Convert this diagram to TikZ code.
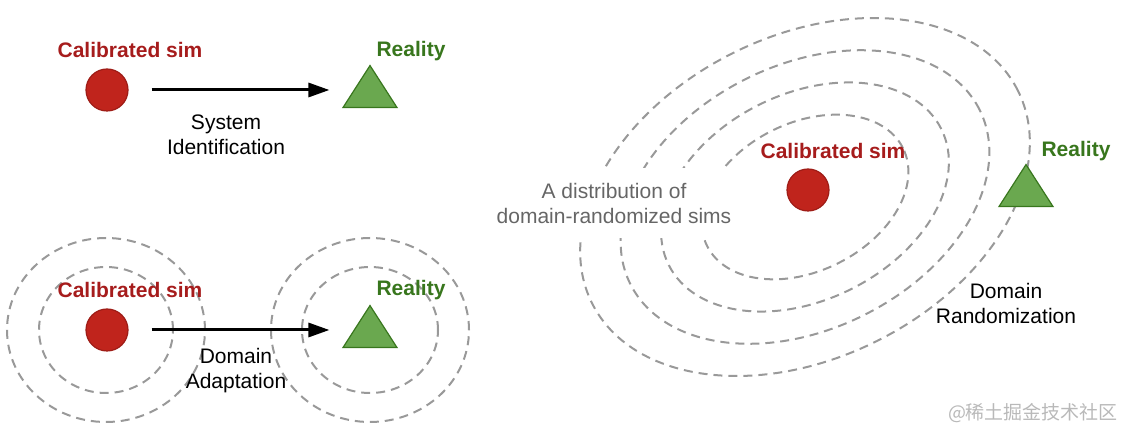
\documentclass[tikz,border=0pt]{standalone}
\usepackage{fontspec}
\setsansfont{Liberation Sans}
\newfontfamily\cjkfont{Noto Sans CJK SC}
\usepackage{tikz}
\usetikzlibrary{positioning}
\usetikzlibrary{arrows.meta}
\usetikzlibrary{shapes.geometric}
\definecolor{simred}{RGB}{192,36,28}
\definecolor{simdark}{RGB}{158,28,22}
\definecolor{simtext}{RGB}{166,28,28}
\definecolor{realgreen}{RGB}{106,168,79}
\definecolor{realdark}{RGB}{56,118,29}
\definecolor{ringgray}{RGB}{153,153,153}
\definecolor{notegray}{RGB}{102,102,102}

\tikzset{
	ring/.style={draw=ringgray, line width=2pt, dash pattern=on 9pt off 6pt},
	simdot/.style={circle, fill=simred, draw=simdark, line width=1.2pt, minimum size=42pt, inner sep=0pt},
	realtri/.style={isosceles triangle, isosceles triangle stretches, shape border rotate=90,
	                fill=realgreen, draw=realdark, line width=1.2pt,
	                minimum width=54pt, minimum height=42pt, inner sep=0pt, anchor=apex},
	simname/.style={text=simtext, font=\sffamily\bfseries\fontsize{21}{25}\selectfont},
	realname/.style={text=realdark, font=\sffamily\bfseries\fontsize{21}{25}\selectfont},
	caption/.style={align=center, font=\sffamily\fontsize{21}{25}\selectfont}
}

\begin{document}
\begin{tikzpicture}[x=1pt,y=1pt]
	\useasboundingbox (0,0) rectangle (1124,441);

	% rings round the left pair
	\draw[ring] (106,111) ellipse [x radius=99, y radius=92];
	\draw[ring] (106,111) ellipse [x radius=67, y radius=63];
	\draw[ring] (370,111) ellipse [x radius=99, y radius=92];
	\draw[ring] (370,111) ellipse [x radius=68, y radius=63];

	% tilted rings on the right
	\foreach \s in {1,0.82,0.64,0.46}
		\draw[ring, rotate around={26.5:(805,244)}] (805,244) ellipse [x radius=238*\s, y radius=161*\s];

	\begin{scope}[every node/.style={simdot}]
	    \node (c1) at (107,351) {};
	    \node (c2) at (107,111) {};
	    \node (c3) at (808,251) {};
	\end{scope}

	\begin{scope}[every node/.style={realtri}]
	    \node (t1) at (370,377) {};
	    \node (t2) at (370,137) {};
	    \node (t3) at (1026,278) {};
	\end{scope}

	\node[simname] (s1) at (130,391) {Calibrated sim};
	\node[simname] (s2) at (130,151) {Calibrated sim};
	\node[simname] (s3) at (833,290) {Calibrated sim};
	\node[realname] (r1) at (411,390) {Reality};
	\node[realname] (r2) at (411,151) {Reality};
	\node[realname] (r3) at (1076,290) {Reality};

	\begin{scope}[>={Triangle[length=21pt,width=14pt]},
	              every edge/.style={draw=black, line width=3pt}]
    	\path [->] (c1.east) edge[shorten <=23pt, shorten >=26.5pt] (c1.east -| t1.left side);
    	\path [->] (c2.east) edge[shorten <=23pt, shorten >=26.5pt] (c2.east -| t2.left side);
	\end{scope}

	\node[caption] (sysid) at (226,306) {System\\Identification};
	\node[caption] (adapt) at (236,70) {Domain\\Adaptation};
	\node[caption] (rand) at (1006,138) {Domain\\Randomization};
	\node[caption, text=notegray, fill=white, minimum width=250pt, minimum height=70pt] (dist) at (614,238) {A distribution of\\domain-randomized sims};

	\node[text=gray!55, font=\cjkfont\fontsize{19}{22}\selectfont] (mark) at (1033,28) {@稀土掘金技术社区};
\end{tikzpicture}
\end{document}
